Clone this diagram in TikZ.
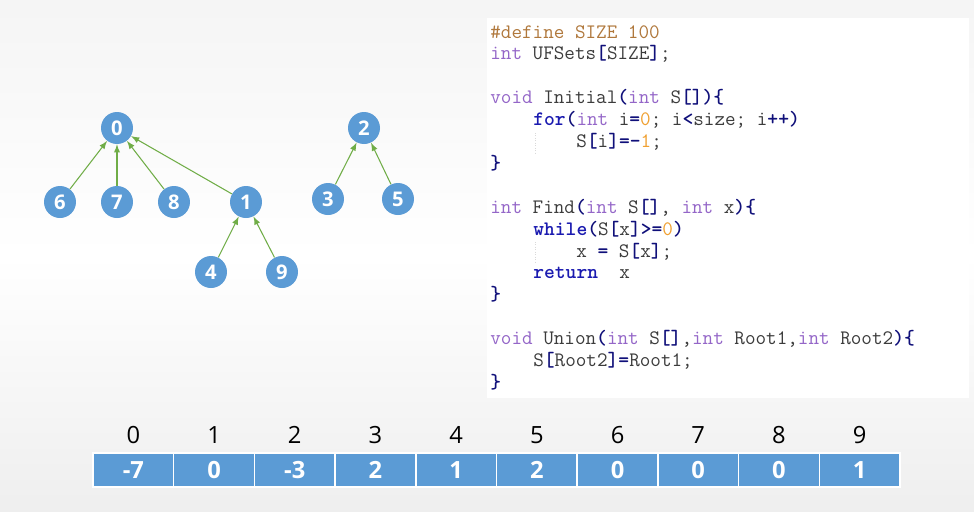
\documentclass[tikz,border=0pt]{standalone}
\usepackage{fontspec}
\usepackage{tikz}
\setmainfont{Open Sans}
\definecolor{nodeblue}{HTML}{5B9BD5}
\definecolor{edgegreen}{HTML}{70AD47}
\definecolor{kwblue}{HTML}{1A1AB0}
\definecolor{opnavy}{HTML}{10107A}
\definecolor{typurple}{HTML}{9466C8}
\definecolor{numorange}{HTML}{F0A030}
\definecolor{ppbrown}{HTML}{B0783C}
\definecolor{codegray}{HTML}{3C3C3C}
\newcommand{\ckw}[1]{{\color{kwblue}\bfseries #1}}
\newcommand{\cop}[1]{{\color{opnavy}\bfseries #1}}
\newcommand{\cty}[1]{{\color{typurple}#1}}
\newcommand{\cnum}[1]{{\color{numorange}#1}}
\newcommand{\cpp}[1]{{\color{ppbrown}#1}}

\begin{document}
\begin{tikzpicture}[>=latex,x=0.02cm,y=-0.02cm,
    vertex/.style={circle,fill=nodeblue,text=white,minimum size=0.64cm,inner sep=0pt,font=\fontsize{11.5}{13}\selectfont\bfseries},
    edge/.style={->,draw=edgegreen,line width=0.6pt},
    cell/.style={rectangle,fill=nodeblue,draw=white,line width=0.8pt,text=white,minimum width=1.614cm,minimum height=0.68cm,inner sep=0pt,font=\fontsize{13.5}{15}\selectfont\bfseries},
    idx/.style={font=\fontsize{13.5}{15}\selectfont,text=black},
    codeline/.style={anchor=base west,inner sep=0pt,text=codegray,font=\ttfamily\fontsize{11.7}{13}\selectfont}]
        \useasboundingbox (0,0) rectangle (974,511);
        \shade[top color=gray!8,bottom color=gray!13,middle color=white] (0,0) rectangle (974,511);
        \fill[white] (487,18) rectangle (969,398);

        % trees
        \foreach \n/\x/\y in {0/117/128,6/60/202,7/117/202,8/174/202,1/246/202,4/211/272,9/282/272,2/364/128,3/328/199,5/398/199}
        {
            \node[vertex] (v\n) at (\x,\y) {\n};
        }
        \foreach \c/\p in {6/0,7/0,8/0,1/0,4/1,9/1,3/2,5/2}
        {
            \draw[edge] (v\c) -- (v\p);
        }

        % array
        \foreach \i/\v in {0/-7,1/0,2/-3,3/2,4/1,5/2,6/0,7/0,8/0,9/1}
        {
            \node[cell] (a\i) at (133.35+80.7*\i,470) {\v};
            \node[idx] (i\i) at (133.35+80.7*\i,435) {\i};
        }

        % code
        \node[codeline] (c1) at (490,38) {\cpp{\#define SIZE 100}};
        \node[codeline] (c2) at (490,59.9) {\cty{int} UFSets\cop{[}SIZE\cop{]};};
        \node[codeline] (c4) at (490,103.7) {\cty{void} Initial\cop{(}\cty{int} S\cop{[])\{}};
        \node[codeline] (c5) at (533,125.6) {\ckw{for}\cop{(}\cty{int} i\cop{=}\cnum{0}; i\cop{<}size; i\cop{++)}};
        \node[codeline] (c6) at (576,147.5) {S\cop{[}i\cop{]=-}\cnum{1};};
        \node[codeline] (c7) at (490,169.4) {\cop{\}}};
        \node[codeline] (c9) at (490,213.2) {\cty{int} Find\cop{(}\cty{int} S\cop{[]}, \cty{int} x\cop{)\{}};
        \node[codeline] (c10) at (533,235.1) {\ckw{while}\cop{(}S\cop{[}x\cop{]>=}\cnum{0}\cop{)}};
        \node[codeline] (c11) at (576,257) {x \cop{=} S\cop{[}x\cop{]};};
        \node[codeline] (c12) at (533,278.9) {\ckw{return}\ \ x};
        \node[codeline] (c13) at (490,300.8) {\cop{\}}};
        \node[codeline] (c15) at (490,344.6) {\cty{void} Union\cop{(}\cty{int} S\cop{[]},\cty{int} Root1,\cty{int} Root2\cop{)\{}};
        \node[codeline] (c16) at (533,366.5) {S\cop{[}Root2\cop{]=}Root1;};
        \node[codeline] (c17) at (490,388.4) {\cop{\}}};

        \draw[gray!30,densely dotted] (535,133) -- (535,153);
        \draw[gray!30,densely dotted] (535,242) -- (535,262);
    \end{tikzpicture}
\end{document}
